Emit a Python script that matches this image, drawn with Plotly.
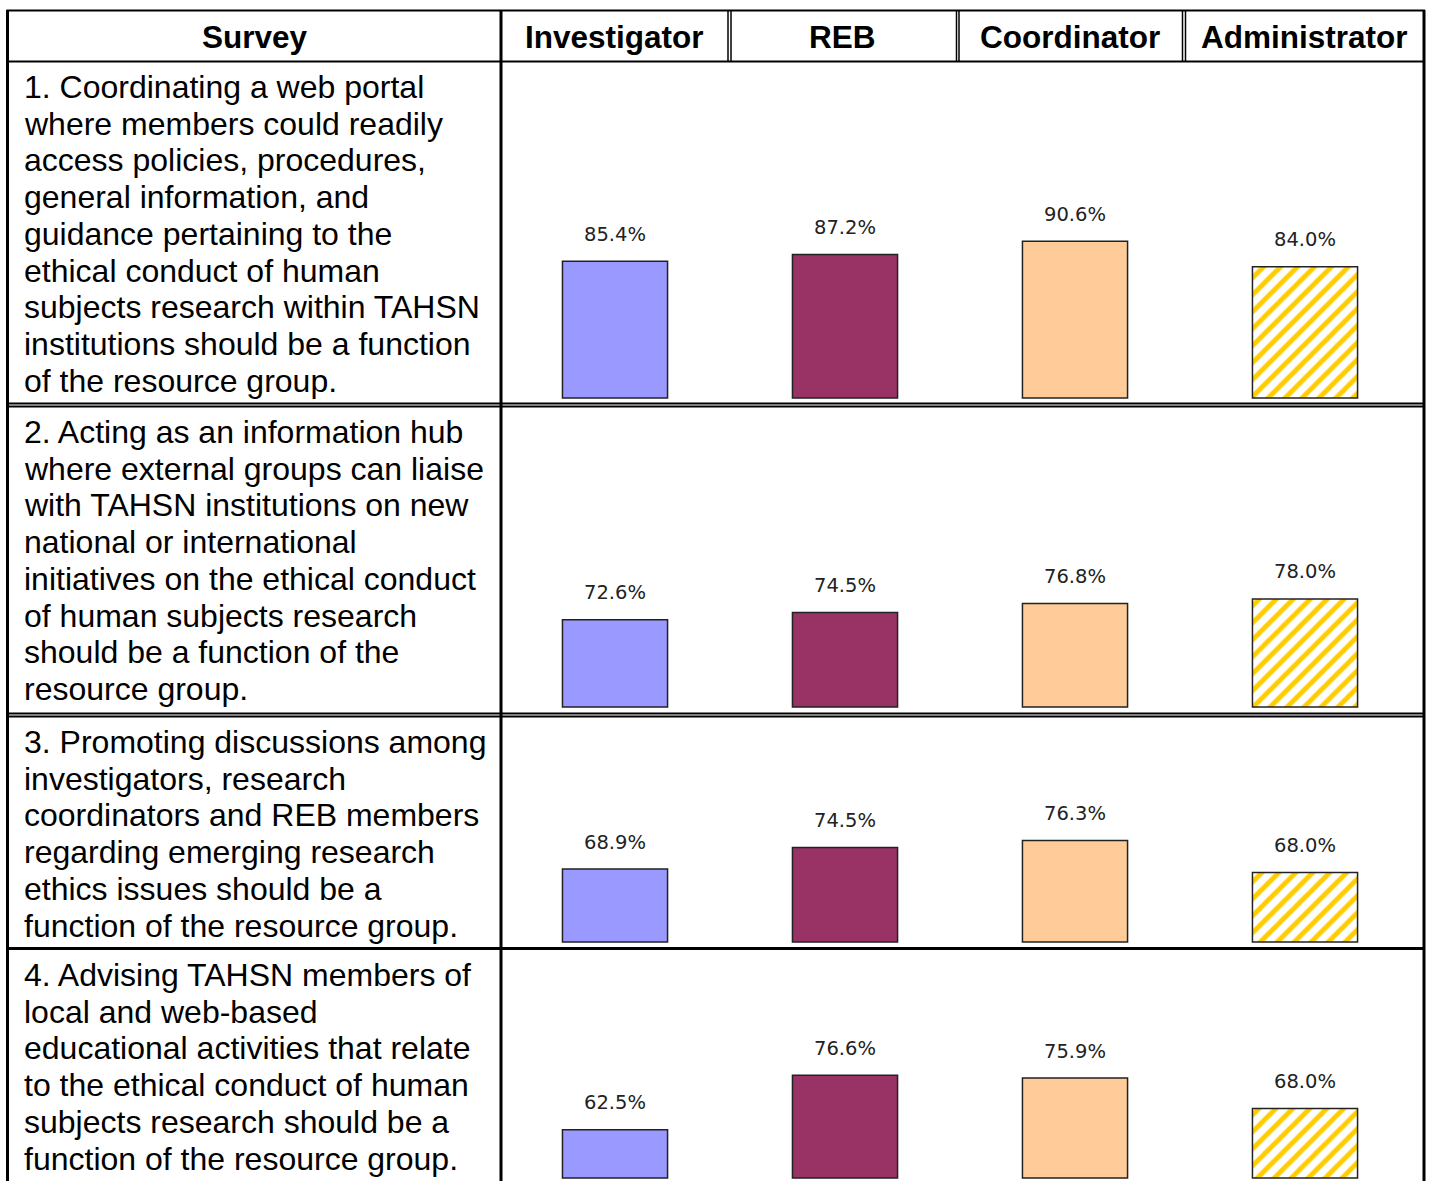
import plotly.graph_objects as go

# ---------------- data ----------------
roles = ["Investigator", "REB", "Coordinator", "Administrator"]
investigator = [85.4, 72.6, 68.9, 62.5]
reb = [87.2, 74.5, 74.5, 76.6]
coordinator = [90.6, 76.8, 76.3, 75.9]
administrator = [84.0, 78.0, 68.0, 68.0]
header_survey = "Survey"
survey_items = [
    ["1. Coordinating a web portal",
     "where members could readily",
     "access policies, procedures,",
     "general information, and",
     "guidance pertaining to the",
     "ethical conduct of human",
     "subjects research within TAHSN",
     "institutions should be a function",
     "of the resource group."],
    ["2. Acting as an information hub",
     "where external groups can liaise",
     "with TAHSN institutions on new",
     "national or international",
     "initiatives on the ethical conduct",
     "of human subjects research",
     "should be a function of the",
     "resource group."],
    ["3. Promoting discussions among",
     "investigators, research",
     "coordinators and REB members",
     "regarding emerging research",
     "ethics issues should be a",
     "function of the resource group."],
    ["4. Advising TAHSN members of",
     "local and web-based",
     "educational activities that relate",
     "to the ethical conduct of human",
     "subjects research should be a",
     "function of the resource group."],
]
axis_min = 50

# ---------------- layout helpers ----------------
W, H = 1429, 1181


def px(x):
    return x / W


def py(y):
    return 1 - y / H


row_tops = [63, 408, 718, 951]
row_baselines = [398, 707, 942, 1178]
PX_PER_PCT = 3.86
LINE_H = 36.7
FONT = "Liberation Sans, Arial, sans-serif"

series = [
    (investigator, dict(color="#9999FF")),
    (reb, dict(color="#993366")),
    (coordinator, dict(color="#FFCC99")),
    (administrator, dict(color="white",
                         pattern=dict(shape="/", fgcolor="#FFCC00", bgcolor="white",
                                      size=12, solidity=0.4, fillmode="replace"))),
]

fig = go.Figure()
layout_axes = {}
annotations = []

for r in range(4):
    idx = r + 1
    xa = "x" if idx == 1 else f"x{idx}"
    ya = "y" if idx == 1 else f"y{idx}"
    top, base_px = row_tops[r], row_baselines[r]
    for s, (vals, mk) in enumerate(series):
        marker = dict(mk)
        marker["line"] = dict(color="#222222", width=1.5)
        fig.add_trace(go.Bar(
            x=[roles[s]], y=[vals[r] - axis_min], base=axis_min,
            width=0.457, marker=marker, xaxis=xa, yaxis=ya,
            showlegend=False, hoverinfo="skip"))
        annotations.append(dict(
            x=roles[s], y=vals[r], xref=xa, yref=ya,
            text=f"{vals[r]:.1f}%", showarrow=False,
            yanchor="middle", yshift=27,
            font=dict(family="DejaVu Sans, Verdana, sans-serif", size=19.5, color="#222222")))
    layout_axes[f"xaxis{'' if idx == 1 else idx}"] = dict(
        domain=[px(500), px(1420)], type="category", categoryorder="array",
        categoryarray=roles, range=[-0.5, 3.5], visible=False, anchor=ya, fixedrange=True)
    layout_axes[f"yaxis{'' if idx == 1 else idx}"] = dict(
        domain=[max(0, py(base_px + 1)), py(top)],
        range=[axis_min - 1 / PX_PER_PCT, axis_min + (base_px - top) / PX_PER_PCT],
        visible=False, anchor=xa, fixedrange=True)

    # survey text lines
    for j, line in enumerate(survey_items[r]):
        annotations.append(dict(
            x=px(22), y=py(top + 24 + j * LINE_H), xref="paper", yref="paper",
            text=line, showarrow=False, xanchor="left", yanchor="middle",
            font=dict(family=FONT, size=32, color="black")))

# header texts
header_centers = [255, 614, 842, 1070, 1304]
for cx, label in zip(header_centers, [header_survey] + roles):
    annotations.append(dict(
        x=px(cx), y=py(37), xref="paper", yref="paper", text=f"<b>{label}</b>",
        showarrow=False, xanchor="center", yanchor="middle",
        font=dict(family=FONT, size=31.5, color="black")))

# table lines
shapes = []


def hline(y, x0, x1, w):
    shapes.append(dict(type="line", xref="paper", yref="paper",
                       x0=px(x0), x1=px(x1), y0=py(y), y1=py(y),
                       line=dict(color="black", width=w)))


def vline(x, y0, y1, w):
    shapes.append(dict(type="line", xref="paper", yref="paper",
                       x0=px(x), x1=px(x), y0=py(y0), y1=py(y1),
                       line=dict(color="black", width=w)))


L, R = 7.5, 1424
hline(10.5, L - 1, R + 1, 2)          # top
hline(61.5, L, R, 2)                  # header bottom
hline(403.5, L, R, 2); hline(406.5, L, R, 2)
hline(713.5, L, R, 2); hline(716.5, L, R, 2)
hline(948.5, L, R, 3)
vline(L, 10, H, 3)
vline(R, 10, H, 3)
vline(501, 10, H, 3)
for x in (728, 731, 956.5, 959, 1182.5, 1185.5):
    vline(x, 10, 61, 1.5)

fig.update_layout(
    width=W, height=H, margin=dict(l=0, r=0, t=0, b=0),
    paper_bgcolor="white", plot_bgcolor="rgba(0,0,0,0)",
    barmode="overlay", annotations=annotations, shapes=shapes,
    **layout_axes)

fig.write_html(
    "out.html", config={"displayModeBar": False},
    post_script="document.body.style.margin='0';document.body.style.overflow='hidden';")
